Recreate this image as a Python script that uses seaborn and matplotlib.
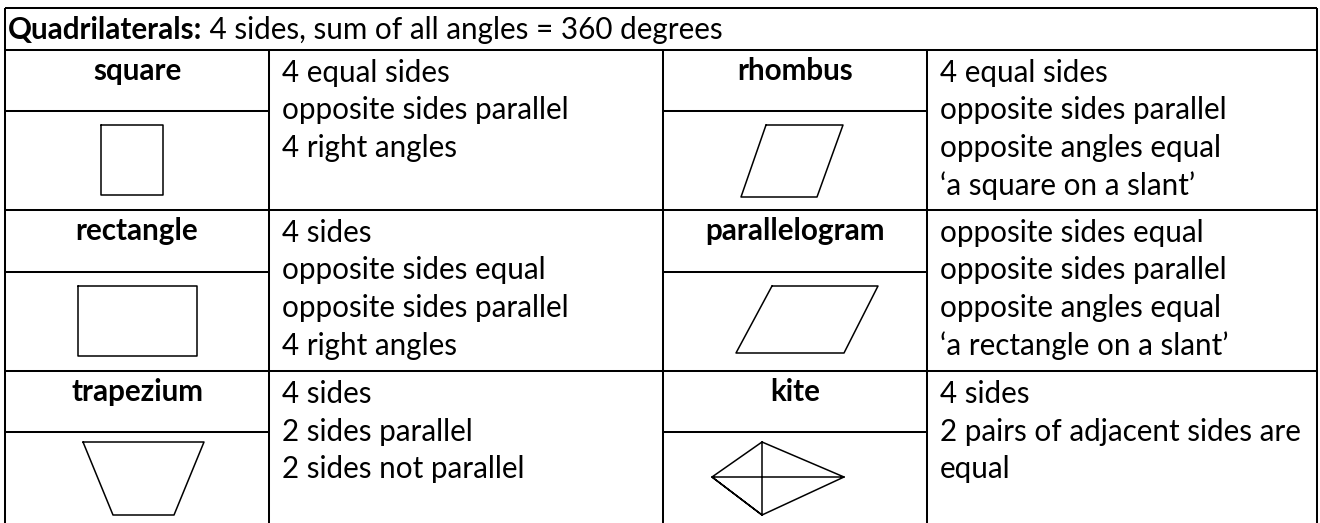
import numpy as np
import pandas as pd
import matplotlib.pyplot as plt
import seaborn as sns

# ── Table content ───────────────────────────────────────────────────────────

header_bold = "Quadrilaterals:"
header_rest = " 4 sides, sum of all angles = 360 degrees"

shape_names = ["square", "rhombus", "rectangle", "parallelogram", "trapezium", "kite"]

descriptions = [
    ["4 equal sides", "opposite sides parallel", "4 right angles"],
    ["4 equal sides", "opposite sides parallel", "opposite angles equal",
     "\u2018a square on a slant\u2019"],
    ["4 sides", "opposite sides equal", "opposite sides parallel", "4 right angles"],
    ["opposite sides equal", "opposite sides parallel", "opposite angles equal",
     "\u2018a rectangle on a slant\u2019"],
    ["4 sides", "2 sides parallel", "2 sides not parallel"],
    ["4 sides", "2 pairs of adjacent sides are", "equal"],
]

# shape outlines (px, relative to the drawing cell centre)
square_x = [-36, 26, 26, -36, -36]
square_y = [-35.5, -35.5, 34.5, 34.5, -35.5]
rhombus_x = [-29, 48, 22, -54, -29]
rhombus_y = [-35.5, -35.5, 36.5, 36.5, -35.5]
rectangle_x = [-59, 60, 60, -59, -59]
rectangle_y = [-35.5, -35.5, 34.5, 34.5, -35.5]
parallelogram_x = [-23, 83, 49, -59, -23]
parallelogram_y = [-35.5, -35.5, 31.5, 31.5, -35.5]
trapezium_x = [-54, 67, 37, -24, -54]
trapezium_y = [-35.5, -35.5, 37.5, 37.5, -35.5]
kite_x = [-33, 49, -33, -83, -33, -33, np.nan, -83, 49]
kite_y = [-35.5, -0.5, 37.5, -0.5, -35.5, 37.5, np.nan, -0.5, -0.5]

outlines = [(square_x, square_y), (rhombus_x, rhombus_y),
            (rectangle_x, rectangle_y), (parallelogram_x, parallelogram_y),
            (trapezium_x, trapezium_y), (kite_x, kite_y)]

# ── Layout (pixels) ─────────────────────────────────────────────────────────

W, H = 1320, 523
col_x = [5, 269, 663, 927, 1317]
top_y, head_y = 8, 50
row_top = [50, 210, 371]
row_sub = [111, 272, 432]
row_bot = [210, 371, 523]
line_gap = 37.5
FS = 21.3

sns.set_theme(style="white")
plt.rcParams["font.family"] = ["Lato", "DejaVu Sans"]

fig = plt.figure(figsize=(W / 100, H / 100), dpi=100)
ax = fig.add_axes([0, 0, 1, 1])

# grid
lw_grid = 1.45
ax.hlines([top_y, head_y, row_bot[0], row_bot[1]], col_x[0], col_x[-1],
          color="black", lw=lw_grid)
for ys in row_sub:
    ax.hlines(ys, col_x[0], col_x[1], color="black", lw=lw_grid)
    ax.hlines(ys, col_x[2], col_x[3], color="black", lw=lw_grid)
ax.vlines([col_x[0], col_x[-1]], top_y, H, color="black", lw=lw_grid)
ax.vlines(col_x[1:4], head_y, H, color="black", lw=lw_grid)

# header
t = ax.text(8, 30, header_bold, fontsize=FS, fontweight="bold",
            ha="left", va="center", color="black")
ax.annotate(header_rest, xy=(1, 0), xycoords=t, ha="left", va="bottom",
            fontsize=FS, color="black")

# cells: bold name, drawing below it, description lines to the right
for i, name in enumerate(shape_names):
    r, c = divmod(i, 2)
    lab_cx = (col_x[2 * c] + col_x[2 * c + 1]) / 2
    ax.text(lab_cx, row_top[r] + 21, name, fontsize=FS, fontweight="bold",
            ha="center", va="center", color="black")
    for k, line in enumerate(descriptions[i]):
        ax.text(col_x[2 * c + 1] + 13, row_top[r] + 23 + k * line_gap, line,
                fontsize=FS, ha="left", va="center", color="black")
    cy = (row_sub[r] + row_bot[r]) / 2
    sx, sy = outlines[i]
    df = pd.DataFrame({"x": np.array(sx, dtype=float) + lab_cx,
                       "y": np.array(sy, dtype=float) + cy})
    sns.lineplot(data=df, x="x", y="y", sort=False, estimator=None,
                 color="black", lw=1.1, ax=ax, legend=False)

ax.set_xlim(0, W)
ax.set_ylim(H, 0)
ax.axis("off")
fig.savefig("out.png", dpi=100)
